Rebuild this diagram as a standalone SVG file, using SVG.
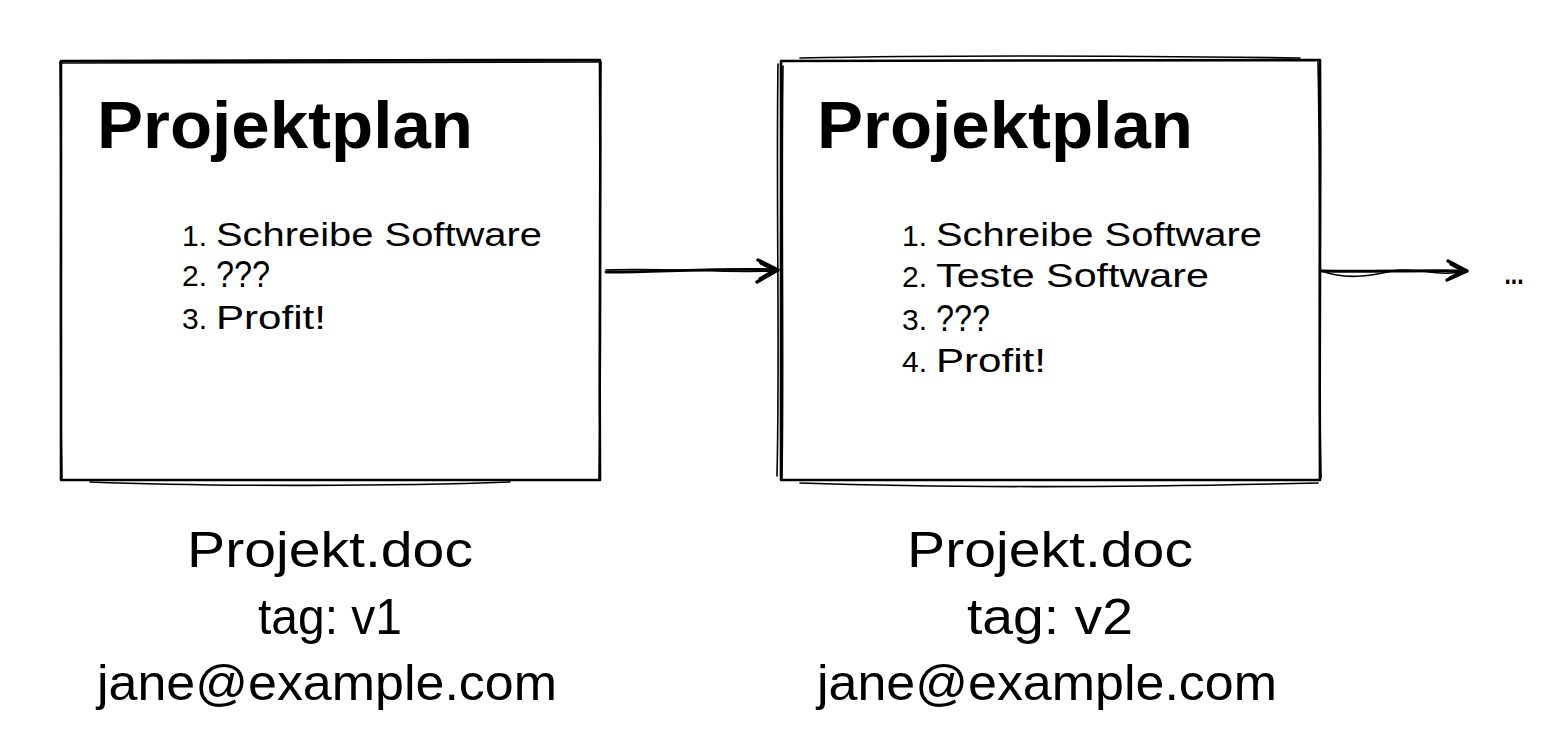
<svg xmlns="http://www.w3.org/2000/svg" width="1562" height="752" viewBox="0 0 1562 752">
<style>
.edge{fill:none;stroke:#000;stroke-width:2.6;stroke-linecap:round;stroke-linejoin:round}
.edge2{fill:none;stroke:#000;stroke-width:1.6;stroke-linecap:round;stroke-linejoin:round}
.title{font-family:"Liberation Sans",Arial,sans-serif;font-weight:bold;font-size:66px;fill:#000}
.item{font-family:"Liberation Sans",Arial,sans-serif;font-size:33px;fill:#000}
.num{font-family:"Liberation Sans",Arial,sans-serif;font-size:30px;fill:#000;text-anchor:end}
.label{font-family:"Liberation Sans",Arial,sans-serif;font-size:50px;fill:#000;text-anchor:middle}
.conn{fill:none;stroke:#000;stroke-width:2.8;stroke-linecap:round;stroke-linejoin:round}
.head{fill:none;stroke:#000;stroke-width:3.4;stroke-linecap:round;stroke-linejoin:round}
</style>
<rect width="1562" height="752" fill="#fff"/>

<g id="node-v1">
<path class="edge" d="M61 61 C 240 60, 420 62, 600 60 C 601 200, 599 340, 600 480 C 420 481, 240 479, 61 480 C 62 340, 60 200, 61 61 Z"/>
<path class="edge2" d="M62 63 C 250 62, 430 61, 599 62 M601 62 C 599 200, 602 350, 599 479 M90 482 C 220 487, 400 486, 510 482 M60 62 C 62 200, 59 350, 62 478"/>
<text class="title" x="97" y="148" textLength="376" lengthAdjust="spacingAndGlyphs">Projektplan</text>
<text class="num" x="207" y="246">1.</text>
<text class="item" x="216" y="246" textLength="326" lengthAdjust="spacingAndGlyphs">Schreibe Software</text>
<text class="num" x="207" y="286">2.</text>
<text class="item" x="216" y="287" textLength="54" lengthAdjust="spacingAndGlyphs" style="font-size:36px">???</text>
<text class="num" x="207" y="329">3.</text>
<text class="item" x="216" y="329" textLength="110" lengthAdjust="spacingAndGlyphs">Profit!</text>
</g>

<g id="label-v1">
<text class="label" x="330" y="567" textLength="286" lengthAdjust="spacingAndGlyphs">Projekt.doc</text>
<text class="label" x="330" y="634" textLength="144" lengthAdjust="spacingAndGlyphs">tag: v1</text>
<text class="label" x="327" y="700" textLength="460" lengthAdjust="spacingAndGlyphs">jane@example.com</text>
</g>

<g id="node-v2">
<path class="edge" d="M781 61 C 960 60, 1140 62, 1320 60 C 1321 200, 1319 340, 1320 480 C 1140 481, 960 479, 781 480 C 782 340, 780 200, 781 61 Z"/>
<path class="edge2" d="M800 58 C 950 55, 1150 56, 1300 58 M778 64 C 776 200, 780 350, 777 476 M783 66 C 781 200, 784 350, 782 478 M800 483 C 950 488, 1150 487, 1318 483 M1318 62 C 1321 200, 1318 350, 1321 478"/>
<text class="title" x="817" y="148" textLength="376" lengthAdjust="spacingAndGlyphs">Projektplan</text>
<text class="num" x="927" y="246">1.</text>
<text class="item" x="936" y="246" textLength="326" lengthAdjust="spacingAndGlyphs">Schreibe Software</text>
<text class="num" x="927" y="287">2.</text>
<text class="item" x="936" y="287" textLength="273" lengthAdjust="spacingAndGlyphs">Teste Software</text>
<text class="num" x="927" y="330">3.</text>
<text class="item" x="936" y="331" textLength="54" lengthAdjust="spacingAndGlyphs" style="font-size:36px">???</text>
<text class="num" x="927" y="372">4.</text>
<text class="item" x="936" y="372" textLength="110" lengthAdjust="spacingAndGlyphs">Profit!</text>
</g>

<g id="label-v2">
<text class="label" x="1050" y="567" textLength="286" lengthAdjust="spacingAndGlyphs">Projekt.doc</text>
<text class="label" x="1050" y="634" textLength="166" lengthAdjust="spacingAndGlyphs">tag: v2</text>
<text class="label" x="1047" y="700" textLength="460" lengthAdjust="spacingAndGlyphs">jane@example.com</text>
</g>

<g id="node-more">
<text x="1514" y="284" textLength="19" lengthAdjust="spacingAndGlyphs" style="font-family:'Liberation Sans',Arial,sans-serif;font-weight:bold;font-size:30px;text-anchor:middle">...</text>
</g>

<g id="connectors">
<path class="conn" d="M606 272 C 660 273, 720 267, 777 270"/>
<path class="edge2" d="M606 270 C 670 268, 720 273, 774 271"/>
<path class="head" d="M758 260 L778 270 L757 282 M761 263 L775 270 L760 279"/>
<path class="conn" d="M1321 271 C 1370 272, 1420 270, 1467 271"/>
<path class="edge2" d="M1322 271 C 1345 280, 1370 276, 1392 271 C 1415 266, 1440 278, 1464 271"/>
<path class="head" d="M1448 261 L1467 271 L1447 280 M1451 264 L1464 271 L1450 278"/>
</g>
</svg>
